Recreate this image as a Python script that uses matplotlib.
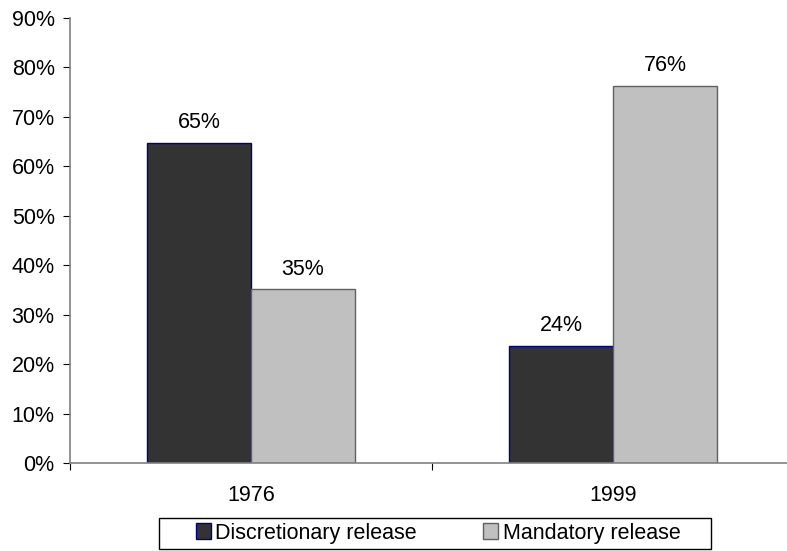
import matplotlib
matplotlib.use('Agg')

import numpy as np
import matplotlib.pyplot as plt
from matplotlib.patches import Rectangle
from matplotlib.ticker import FuncFormatter

# data
years = ['1976', '1999']
discretionary = [64.8, 23.7]
mandatory = [35.2, 76.3]
disc_labels = ['65%', '24%']
mand_labels = ['35%', '76%']
series_names = ['Discretionary release', 'Mandatory release']

plt.rcParams['font.family'] = ['Liberation Sans', 'DejaVu Sans']
plt.rcParams['font.size'] = 15.5

W, H = 787, 551
fig = plt.figure(figsize=(W / 100, H / 100), dpi=100)
# axes in pixel coords: left 70, right 794, top 18, bottom 463
ax = fig.add_axes([70 / W, (H - 463) / H, (794 - 70) / W, (463 - 18) / H])

x = np.arange(len(years)) + 0.5
bw = 0.287
b1 = ax.bar(x - bw / 2, discretionary, bw, color='#333333',
            edgecolor='#000080', linewidth=1, label=series_names[0])
b2 = ax.bar(x + bw / 2, mandatory, bw, color='#c0c0c0',
            edgecolor='#606060', linewidth=1, label=series_names[1])

for rect, txt in zip(b1, disc_labels):
    ax.text(rect.get_x() + rect.get_width() / 2, rect.get_height() + 1.9, txt,
            ha='center', va='bottom')
for rect, txt in zip(b2, mand_labels):
    ax.text(rect.get_x() + rect.get_width() / 2, rect.get_height() + 1.9, txt,
            ha='center', va='bottom')

ax.set_xlim(0, 2)
ax.set_ylim(0, 90)
ax.set_yticks(np.arange(0, 91, 10))
ax.yaxis.set_major_formatter(FuncFormatter(lambda v, p: '%d%%' % v))

# category ticks sit between groups, labels centred under groups
ax.set_xticks([0, 1, 2])
ax.set_xticklabels(['', '', ''])
ax.set_xticks(x, minor=True)
ax.set_xticklabels(years, minor=True)
ax.tick_params(axis='x', which='minor', length=0, pad=16)
ax.tick_params(axis='x', which='major', length=5, direction='out', color='#000000')
ax.tick_params(axis='y', length=5, direction='out', color='#000000', pad=6)

for s in ['top', 'right']:
    ax.spines[s].set_visible(False)
ax.spines['left'].set_color('#808080')
ax.spines['bottom'].set_color('#808080')
ax.spines['left'].set_linewidth(1.2)
ax.spines['bottom'].set_linewidth(1.2)

# legend: entries without frame, box drawn separately (wider padding, like Excel)
leg = fig.legend(handles=[b1, b2], loc='center',
                 bbox_to_anchor=(438 / W, (H - 533) / H),
                 ncol=2, frameon=False,
                 handlelength=0.7, handleheight=0.7, handletextpad=0.2,
                 columnspacing=3.1, borderpad=0.2, borderaxespad=0,
                 fontsize=15.5)
fig.patches.append(Rectangle((159 / W, (H - 549) / H), (711 - 159) / W, 31 / H,
                             transform=fig.transFigure, fill=False,
                             edgecolor='black', linewidth=1.0))

fig.savefig('out.png', dpi=100)
